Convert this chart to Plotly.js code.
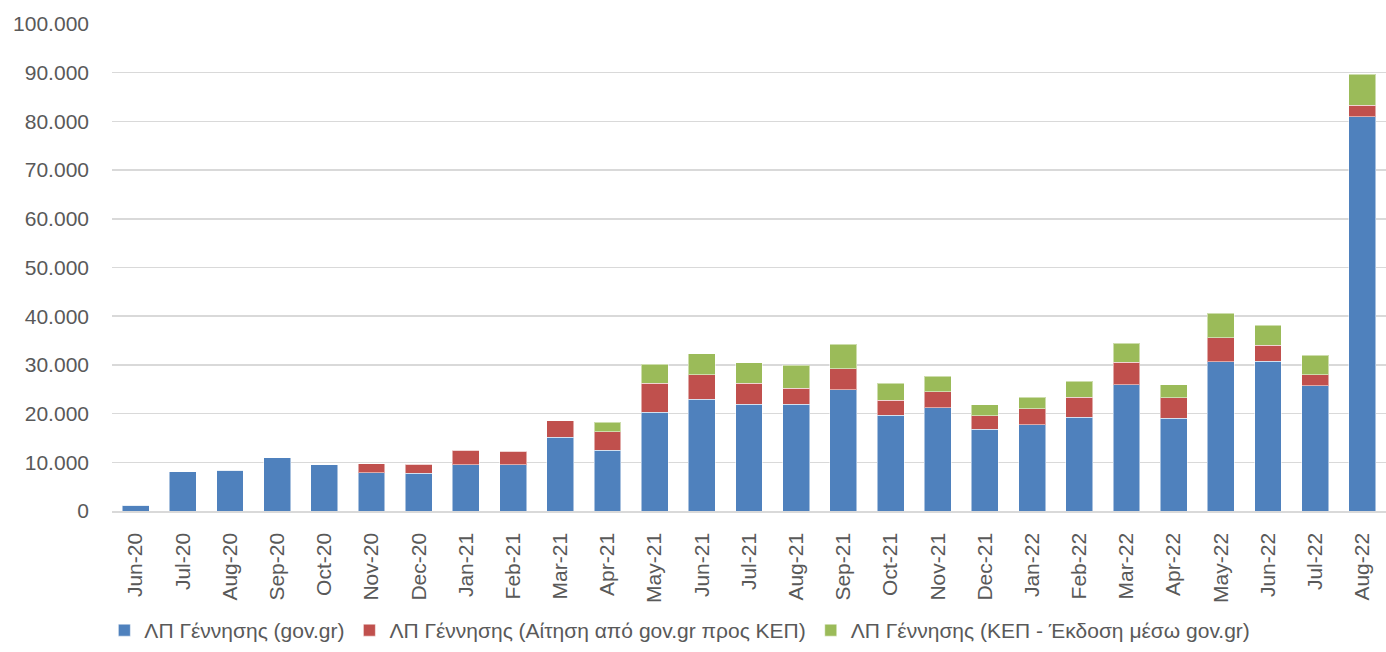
<!DOCTYPE html>
<html>
<head>
<meta charset="utf-8">
<script src="https://cdn.plot.ly/plotly-3.0.1.min.js"></script>
<style>
html,body{margin:0;padding:0;background:#fff;}
#chart{width:1386px;height:652px;}
</style>
</head>
<body>
<div id="chart"></div>
<script>
const categories = ["Jun-20","Jul-20","Aug-20","Sep-20","Oct-20","Nov-20","Dec-20","Jan-21","Feb-21","Mar-21","Apr-21","May-21","Jun-21","Jul-21","Aug-21","Sep-21","Oct-21","Nov-21","Dec-21","Jan-22","Feb-22","Mar-22","Apr-22","May-22","Jun-22","Jul-22","Aug-22"];
const govgr = [1200,8100,8400,10900,9500,7900,7800,9500,9500,15100,12500,20300,22900,21900,21900,24900,19700,21200,16800,17700,19300,25900,19050,30600,30800,25750,80950];
const aitisiKep = [0,0,0,0,0,1800,1850,3000,2800,3450,3800,5900,5100,4300,3300,4300,3000,3300,2800,3300,4100,4600,4250,5000,3200,2250,2350];
const kepEkdosi = [0,0,0,0,0,0,0,0,0,0,1900,3900,4300,4200,4700,5050,3500,3200,2250,2400,3200,3900,2600,5000,4100,4000,6350];
const seriesNames = ["ΛΠ Γέννησης (gov.gr)","ΛΠ Γέννησης (Αίτηση από gov.gr προς ΚΕΠ)","ΛΠ Γέννησης (ΚΕΠ - Έκδοση μέσω gov.gr)"];
const yTicks = [0,10000,20000,30000,40000,50000,60000,70000,80000,90000,100000];

const colors = ["#4F81BD","#C0504D","#9BBB59"];
const seriesValues = [govgr, aitisiKep, kepEkdosi];
const traces = seriesValues.map((vals,i)=>({
  type:'bar',
  name: seriesNames[i],
  x: categories,
  y: vals,
  marker:{color:colors[i], line:{color:'rgba(255,255,255,0.5)', width:1}},
  hoverinfo:'skip'
}));

const font = {family:'"Liberation Sans", Arial, sans-serif', color:'#595959'};
const layout = {
  width:1386, height:652,
  margin:{l:112, r:0, t:24, b:141, pad:0},
  paper_bgcolor:'#fff', plot_bgcolor:'#fff',
  barmode:'stack',
  bargap:0.43,
  separators:',.',
  font: font,
  showlegend:true,
  legend:{orientation:'h', x:-0.006, xanchor:'left', y:-0.2875, yanchor:'bottom',
          font:{family:font.family, color:'#595959', size:21}, traceorder:'normal', tracegroupgap:0},
  xaxis:{type:'category', tickangle:-90, showgrid:false, showline:true, linecolor:'#d9d9d9', linewidth:1.5,
         ticks:'', tickfont:{size:21, family:font.family, color:'#595959'}, ticklabelstandoff:12,
         automargin:false, fixedrange:true},
  yaxis:{range:[0,100000], tickvals:yTicks, tickformat:',d', showgrid:true, gridcolor:'#d9d9d9', gridwidth:1.5,
         zeroline:false, showline:false, ticks:'', tickfont:{size:21, family:font.family, color:'#595959'},
         ticklabelstandoff:22, automargin:false, fixedrange:true}
};
Plotly.newPlot('chart', traces, layout, {staticPlot:true, displayModeBar:false});
</script>
</body>
</html>
